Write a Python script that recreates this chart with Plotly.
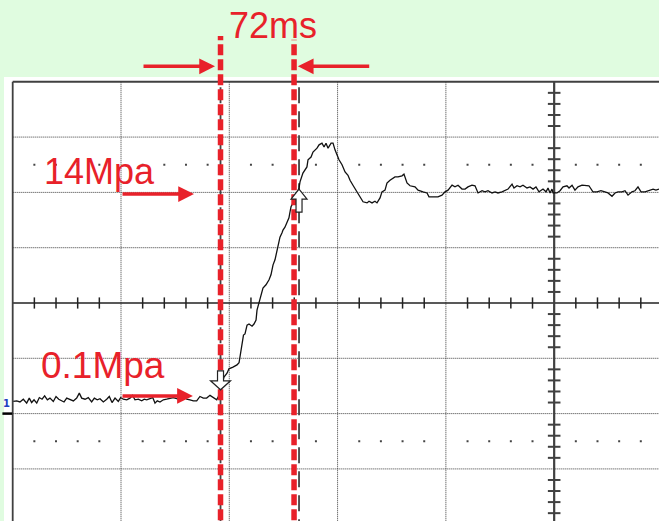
import plotly.graph_objects as go

# ---------------- data (time in ms, 100 ms/div; level in vertical divisions) ----------------
trace_t = [0.6, 3.7, 6.7, 9.8, 12.9, 15.3, 17.5, 19.7, 22.2, 24.6, 27.1, 29.5, 32.0, 34.4, 37.5, 40.0,
           42.5, 44.9, 47.4, 49.9, 52.9, 56.0, 59.1, 61.5, 63.7, 66.8, 69.8, 72.9, 75.4, 78.1, 80.6,
           83.7, 86.8, 89.2, 91.7, 94.5, 97.5, 99.7, 102.1, 105.3, 108.3, 110.7, 112.9, 116.0, 119.1,
           121.5, 123.7, 126.8, 129.3, 131.4, 133.5, 136.0, 139.1, 142.2, 145.3, 148.3, 151.4, 154.5,
           157.5, 160.7, 163.7, 166.8, 169.9, 172.9, 176.0, 179.1, 182.2, 185.2, 188.4, 189.9,
           191.9, 195.1, 197.9, 199.7, 203.4, 207.1, 209.0, 209.9, 210.8, 211.7, 212.7, 213.1, 214.5,
           215.4, 216.4, 218.2, 221.0, 222.8, 224.7, 225.6, 227.4, 228.4, 230.2, 231.1, 233.9, 236.7,
           238.5, 239.4, 240.4, 242.2, 244.0, 245.9, 246.8, 248.7, 249.6, 251.4, 253.3, 255.1, 256.1,
           257.0, 258.8, 261.6, 264.4, 265.3, 268.0, 271.7, 272.7, 275.5, 277.3, 281.0, 282.9, 285.6,
           287.5, 289.3, 291.2, 294.0, 295.8, 297.6, 299.5, 301.3, 304.1, 306.9, 309.6, 311.5, 314.2,
           317.9, 320.7, 323.5, 327.2, 329.0, 331.8, 334.5, 336.4, 339.2, 341.0, 343.8, 345.6, 348.4,
           353.0, 355.8, 359.5, 361.3, 364.1, 366.9, 371.5, 374.3, 378.9, 382.6, 384.4, 388.1, 392.7,
           396.4, 399.2, 402.0, 405.7, 408.4, 411.2, 414.9, 417.7, 420.4, 424.1, 426.9, 429.7, 433.4,
           436.1, 438.9, 442.6, 445.4, 448.1, 451.8, 454.6, 457.4, 461.1, 462.9, 465.7, 468.5, 471.2,
           474.9, 477.7, 480.5, 483.2, 486.0, 489.7, 492.5, 494.3, 496.2, 498.0, 498.9, 502.6, 505.4,
           508.2, 511.8, 513.7, 516.5, 519.2, 522.0, 525.7, 528.5, 532.1, 535.8, 539.5, 543.2, 546.9,
           549.7, 553.4, 556.2, 558.9, 562.6, 565.4, 568.2, 571.8, 574.6, 577.4, 580.2, 583.9, 587.6,
           591.3, 594.0, 596.8]
trace_v = [-1.78, -1.77, -1.79, -1.74, -1.81, -1.72, -1.80, -1.75, -1.81, -1.71, -1.74, -1.68, -1.75,
           -1.72, -1.78, -1.69, -1.74, -1.77, -1.79, -1.72, -1.75, -1.77, -1.72, -1.63, -1.72, -1.74,
           -1.71, -1.79, -1.72, -1.75, -1.73, -1.79, -1.74, -1.69, -1.80, -1.72, -1.78, -1.71, -1.74,
           -1.75, -1.72, -1.67, -1.75, -1.74, -1.77, -1.74, -1.75, -1.73, -1.71, -1.81, -1.77, -1.79,
           -1.75, -1.74, -1.73, -1.71, -1.73, -1.74, -1.68, -1.74, -1.75, -1.77, -1.77, -1.69, -1.72,
           -1.72, -1.67, -1.71, -1.75, -1.69,
           -1.57, -1.34, -1.27, -1.19, -1.16, -1.12, -1.08, -0.98, -0.85, -0.76, -0.69, -0.58, -0.56,
           -0.45, -0.40, -0.38, -0.42, -0.38, -0.31, -0.13, 0.00, 0.09, 0.18, 0.27, 0.33, 0.42,
           0.51, 0.60, 0.69, 0.78, 0.96, 1.10, 1.19, 1.27, 1.32, 1.37, 1.45, 1.54, 1.65,
           1.74, 1.81, 1.93, 2.08, 2.19, 2.35, 2.46, 2.59, 2.64, 2.73, 2.80, 2.86, 2.89,
           2.82, 2.89, 2.80, 2.89, 2.89, 2.77, 2.68, 2.59, 2.50, 2.37, 2.31, 2.22, 2.13,
           2.01, 1.90, 1.83, 1.81, 1.84, 1.81, 1.84, 1.81, 1.90, 2.01, 2.04, 2.17, 2.22,
           2.28, 2.28, 2.30, 2.33, 2.17, 2.12, 2.10, 2.04, 2.01, 1.99, 1.92, 1.92, 1.92,
           1.95, 2.01, 2.04, 2.13, 2.10, 2.13, 2.06, 2.06, 2.10, 2.13, 2.12, 1.99, 2.03,
           2.01, 2.03, 1.99, 2.01, 1.99, 2.01, 2.04, 2.06, 2.15, 2.08, 2.12, 2.10, 2.13,
           2.08, 2.10, 2.06, 2.10, 2.01, 2.06, 2.01, 2.08, 1.99, 2.06, 1.99, 1.99, 2.03,
           2.10, 2.12, 2.08, 2.13, 2.04, 2.10, 2.13, 2.13, 2.12, 2.01, 2.01, 2.03, 2.01,
           1.99, 1.93, 1.99, 2.01, 2.01, 2.03, 1.95, 2.01, 2.03, 2.10, 2.01, 2.01, 2.03,
           2.06, 2.04, 2.06]

cursor_t = [191.9, 264.4]          # scope cursors (ms)
cursor_v = [-1.57, 2.06]           # trace level at the cursors (div)
marker_t = [191.9, 259.8]          # red dashed marker lines (ms)
labels = ["72ms", "14Mpa", "0.1Mpa"]

# ---------------- scope geometry ----------------
MS_PER_DIV = 100
X_MIN, X_MAX = -11.73, 596.8
Y_MIN, Y_MAX = -3.942, 5.479
RED = "#E8212A"
GRID = "#3c3c3c"
FRAME = "#404040"
GREEN = "#E0FCE0"

fig = go.Figure()

shapes = []
# white screen area
shapes.append(dict(type="rect", xref="x", yref="y", x0=-8.03, x1=X_MAX + 5, y0=Y_MIN - 1, y1=4.087,
                   fillcolor="white", line=dict(width=0), layer="below"))
# dotted grid
for k in range(1, 6):
    tx = k * MS_PER_DIV
    if tx == 500:
        continue
    shapes.append(dict(type="line", xref="x", yref="y", x0=tx, x1=tx, y0=-4.2, y1=4,
                       line=dict(color=GRID, width=1, dash="1px,1px"), layer="below"))
for k in [-3, -2, -1, 1, 2, 3]:
    shapes.append(dict(type="line", xref="x", yref="y", x0=0, x1=X_MAX + 5, y0=k, y1=k,
                       line=dict(color=GRID, width=1, dash="1px,1px"), layer="below"))
# center axes
shapes.append(dict(type="line", xref="x", yref="y", x0=0, x1=X_MAX + 5, y0=0, y1=0,
                   line=dict(color="#222222", width=1.5), layer="below"))
shapes.append(dict(type="line", xref="x", yref="y", x0=500, x1=500, y0=-4.2, y1=4,
                   line=dict(color=FRAME, width=2.2), layer="below"))
# frame (top / left)
shapes.append(dict(type="line", xref="x", yref="y", x0=0, x1=X_MAX + 5, y0=4, y1=4,
                   line=dict(color=FRAME, width=2), layer="below"))
shapes.append(dict(type="line", xref="x", yref="y", x0=0, x1=0, y0=-4.2, y1=4,
                   line=dict(color=FRAME, width=1.8), layer="below"))
# black scope cursors
for ct in cursor_t:
    shapes.append(dict(type="line", xref="x", yref="y", x0=ct, x1=ct, y0=-4.2, y1=4,
                       line=dict(color="#444444", width=1.8, dash="16px,8px"), layer="below"))
# ground reference marker of channel 1
shapes.append(dict(type="line", xref="x", yref="y", x0=-9.5, x1=-0.5, y0=-2, y1=-2,
                   line=dict(color="black", width=2.5), layer="above"))
# red dashed marker lines
shapes.append(dict(type="line", xref="x", yref="y", x0=marker_t[0], x1=marker_t[0], y0=-4.2, y1=4.83,
                   line=dict(color=RED, width=5.5, dash="11px,4px"), layer="above"))
shapes.append(dict(type="line", xref="x", yref="y", x0=marker_t[1], x1=marker_t[1], y0=-4.2, y1=4.76,
                   line=dict(color=RED, width=5.5, dash="11px,4px"), layer="above"))
# hollow cursor arrows (pixel-sized, anchored at the cursor points)
shapes.append(dict(type="path", xref="x", yref="y", xsizemode="pixel", ysizemode="pixel",
                   xanchor=cursor_t[0], yanchor=cursor_v[0],
                   path="M0,0 L-10,9 L-3,9 L-3,19 L3,19 L3,9 L10,9 Z",
                   fillcolor="white", line=dict(color="#222222", width=1.2), layer="above"))
shapes.append(dict(type="path", xref="x", yref="y", xsizemode="pixel", ysizemode="pixel",
                   xanchor=cursor_t[1], yanchor=cursor_v[1],
                   path="M0,0 L8,-10 L3,-10 L3,-23 L-3,-23 L-3,-10 L-8,-10 Z",
                   fillcolor="white", line=dict(color="#222222", width=1.2), layer="above"))

# minor-division dots
dot_t = [t for t in range(20, 600, 20) if t % 100 != 0]
fig.add_trace(go.Scatter(x=dot_t * 2, y=[2.5] * len(dot_t) + [-2.5] * len(dot_t), mode="markers",
                         marker=dict(symbol="square", size=2, color="#444444"), hoverinfo="skip"))
# ticks on center axes
htick = [t for t in range(20, 600, 20) if t % 100 != 0]
fig.add_trace(go.Scatter(x=htick, y=[0] * len(htick), mode="markers",
                         marker=dict(symbol="line-ns", size=8, line=dict(width=1.5, color="#222222")),
                         hoverinfo="skip"))
vtick = [k * 0.2 for k in range(-20, 21) if k % 5 != 0]
fig.add_trace(go.Scatter(x=[500] * len(vtick), y=vtick, mode="markers",
                         marker=dict(symbol="line-ew", size=9, line=dict(width=2, color=FRAME)),
                         hoverinfo="skip"))

# signal trace
fig.add_trace(go.Scatter(x=trace_t, y=trace_v, mode="lines", line=dict(color="#111111", width=1.3),
                         hoverinfo="skip"))

annotations = []
FONT = "Liberation Sans, Arial, sans-serif"
annotations.append(dict(x=240.4, y=5.02, xref="x", yref="y", text=labels[0], showarrow=False,
                        font=dict(family=FONT, size=36, color=RED), xanchor="center", yanchor="middle"))
annotations.append(dict(x=79.7, y=2.38, xref="x", yref="y", text=labels[1], showarrow=False,
                        font=dict(family=FONT, size=36, color=RED), xanchor="center", yanchor="middle"))
annotations.append(dict(x=83.5, y=-1.13, xref="x", yref="y", text=labels[2], showarrow=False,
                        font=dict(family=FONT, size=37, color=RED), xanchor="center", yanchor="middle"))
# red arrows
for tail, tip, lvl in [(119.4, 186.8, 4.28), (330.6, 263.3, 4.28), (100.0, 167.4, 1.97), (100.0, 166.4, -1.68)]:
    annotations.append(dict(x=tip, y=lvl, ax=tail, ay=lvl, xref="x", yref="y", axref="x", ayref="y",
                            text="", showarrow=True, arrowhead=2, arrowsize=0.9, arrowwidth=3.5,
                            arrowcolor=RED, standoff=0))
# channel label
annotations.append(dict(x=-5.3, y=-1.81, xref="x", yref="y", text="<b>1</b>", showarrow=False,
                        font=dict(family="DejaVu Sans", size=10, color="#2040C0"),
                        xanchor="center", yanchor="middle"))

fig.update_layout(
    width=659, height=521,
    margin=dict(l=0, r=0, t=0, b=0),
    paper_bgcolor=GREEN, plot_bgcolor=GREEN,
    showlegend=False,
    xaxis=dict(range=[X_MIN, X_MAX], visible=False, fixedrange=True),
    yaxis=dict(range=[Y_MIN, Y_MAX], visible=False, fixedrange=True),
    shapes=shapes, annotations=annotations,
)
fig.write_html("out.html", config={"displayModeBar": False},
               post_script="document.body.style.margin='0';document.body.style.overflow='hidden';")
